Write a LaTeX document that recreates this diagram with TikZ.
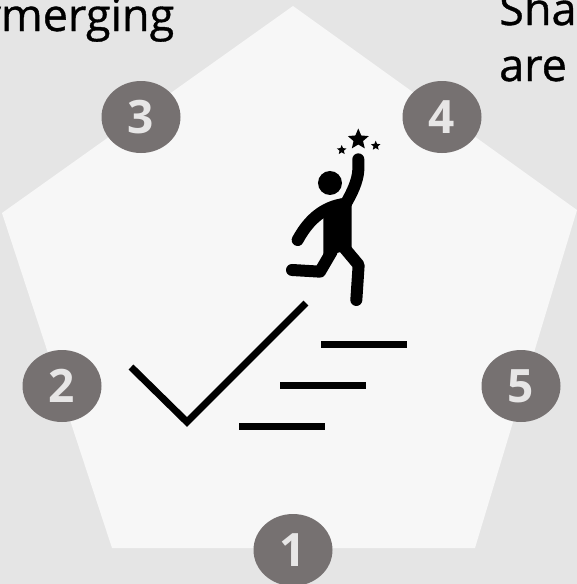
\documentclass[tikz,border=0pt]{standalone}
\usepackage{fontspec}
\setmainfont{Open Sans}
\newfontfamily\heavyfont[FakeBold=0.8]{Open Sans}
\usetikzlibrary{shapes.geometric}
\definecolor{bgc}{HTML}{E5E5E5}
\definecolor{penta}{HTML}{F7F7F7}
\definecolor{badge}{HTML}{767171}
\definecolor{digit}{HTML}{E7E6E6}
\tikzset{
  badgenode/.style={ellipse,fill=badge,minimum width=79pt,minimum height=72pt,inner sep=0pt,text=digit,font=\fontsize{46}{46}\selectfont\bfseries},
  titletext/.style={anchor=base west,inner sep=0pt,font=\heavyfont\fontsize{45}{50}\selectfont,text=black},
  stair/.style={line width=7pt,black},
  limb/.style={line width=12pt,line cap=round,line join=round,black},
  starnode/.style={star,star points=5,star point ratio=2.2,fill=black,inner sep=0pt}
}
\begin{document}
\begin{tikzpicture}[x=1pt,y=-1pt]
\useasboundingbox (0,0) rectangle (577,584);
\clip (0,0) rectangle (577,584);
\fill[bgc] (0,0) rectangle (577,584);
\fill[penta] (293,6) -- (577,210) -- (475,548) -- (112,548) -- (2,213) -- cycle;
\node[titletext] (t1) at (-22,31) {ymerging};
\node[titletext] (t2) at (499,25) {Sha};
\node[titletext] (t3) at (499,81) {are};
\node[badgenode] (n3) at (141,117) {3};
\node[badgenode] (n4) at (442,117) {4};
\node[badgenode] (n2) at (62,386) {2};
\node[badgenode] (n5) at (521,386) {5};
\node[badgenode] (n1) at (293,550) {1};
\draw[stair] (131,367) -- (187,422) -- (306,303);
\draw[stair] (321,344) -- (407,344);
\draw[stair] (280,385) -- (366,385);
\draw[stair] (239,426) -- (325,426);
\begin{scope}[shift={(270,120)},x=0.3333pt,y=-0.3333pt]
\fill[black] (180,189) circle[radius=36];
% torso
\fill[black] (160,293) .. controls (175,250) and (195,238) .. (218,235)
  -- (245,250) -- (245,385) -- (205,398) -- (160,405) -- cycle;
% raised arm
\draw[limb] (265,118) -- (265,150) .. controls (263,185) and (245,220) .. (228,250);
% lowered arm
\draw[limb] (83,360) .. controls (110,310) and (150,265) .. (215,253);
% back leg
\draw[limb] (66,450) -- (150,455) -- (185,395);
% front leg
\draw[limb] (259,540) -- (266,435) -- (220,380);
\end{scope}
\node[starnode,minimum size=22pt] (s1) at (358.3,139.5) {};
\node[starnode,minimum size=10pt] (s2) at (341.7,150) {};
\node[starnode,minimum size=10pt] (s3) at (375.7,145.7) {};
\end{tikzpicture}
\end{document}
